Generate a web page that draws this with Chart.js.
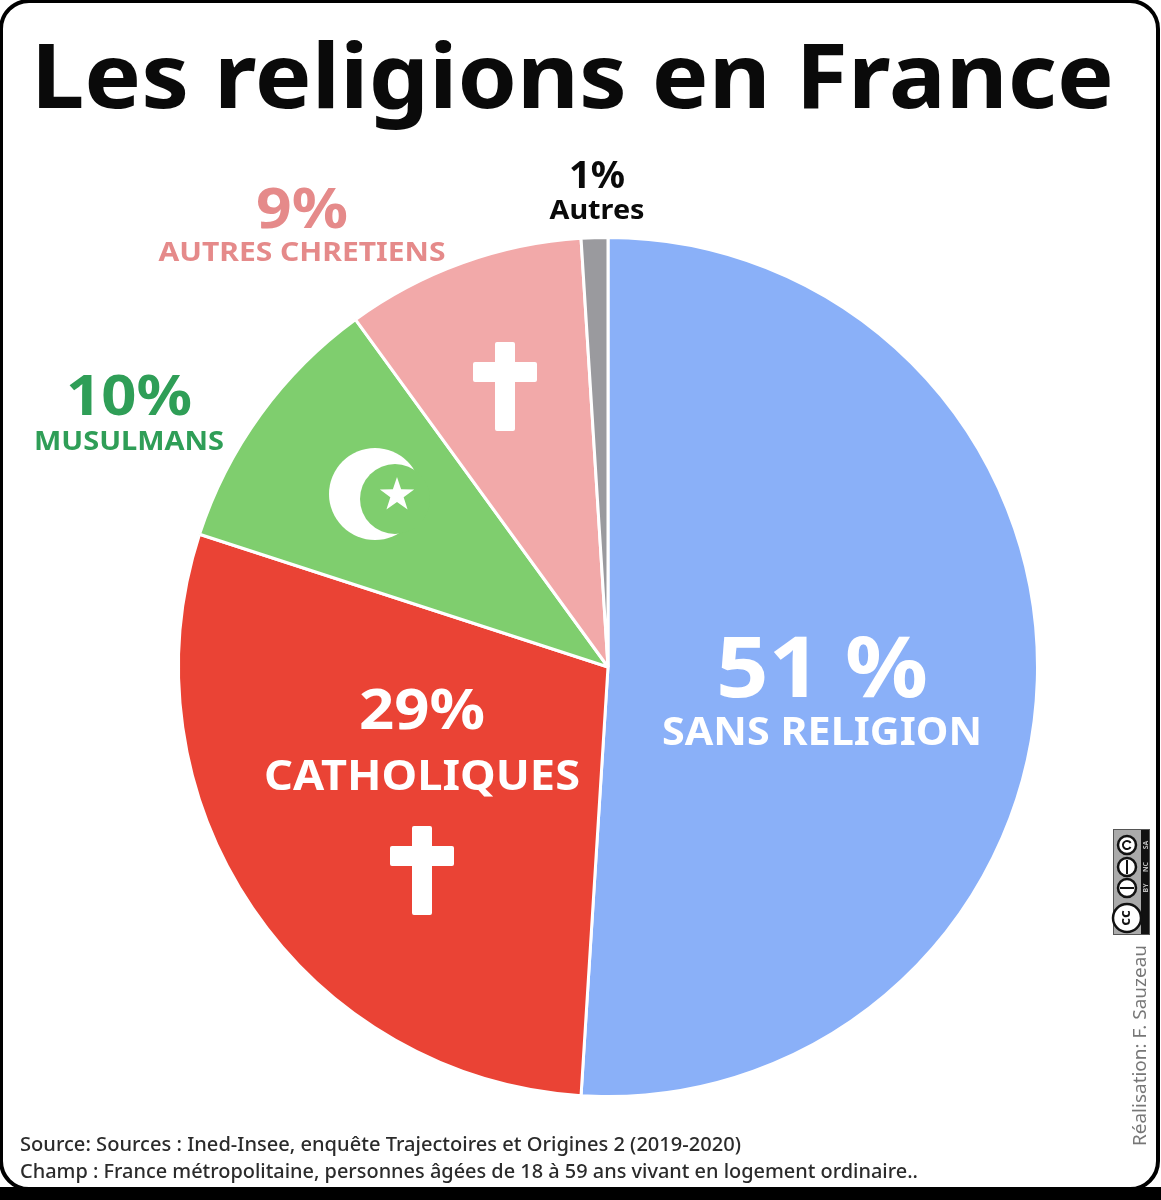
<!DOCTYPE html>
<html lang="fr">
<head>
<meta charset="utf-8">
<title>Les religions en France</title>
<script src="https://cdn.jsdelivr.net/npm/chart.js@4"></script>
<style>
  html, body { margin: 0; background: #fff; }
  canvas { display: block; }
</style>
</head>
<body>
<canvas id="chart" width="1161" height="1200"></canvas>
<script>
// Data, clockwise from the top of the pie
var categories = ['SANS RELIGION', 'CATHOLIQUES', 'MUSULMANS', 'AUTRES CHRETIENS', 'Autres'];
var shares = [51, 29, 10, 9, 1];
var shareLabels = ['51 %', '29%', '10%', '9%', '1%'];
var sliceColors = ['#8ab0f8', '#ea4335', '#7fce6e', '#f2a9a9', '#9a9a9e'];

var chartTitle = 'Les religions en France';
var sourceLines = [
  'Source: Sources : Ined-Insee, enquête Trajectoires et Origines 2 (2019-2020)',
  'Champ : France métropolitaine, personnes âgées de 18 à 59 ans vivant en logement ordinaire..'
];
var credit = 'Réalisation: F. Sauzeau';

var FONT = '"Noto Sans", sans-serif';

// Label placement: [share x, share baseline, share size, share width, name baseline, name size, name width, colour]
var labelPlaces = [
  [822, 697, 84, 212, 745, 40, 320, '#ffffff'],
  [422, 729, 56, 126, 790, 41, 316, '#ffffff'],
  [129, 415, 56, 126, 450, 27, 190, '#2f9e57'],
  [302, 228, 56, 92, 261, 27, 287, '#e58a8a'],
  [597, 188, 38, 56, 219, 26, 95, '#0a0a0a']
];

// draw text squeezed to a given width, the original face is narrower than ours
function fitText(ctx, text, x, y, font, width, align) {
  ctx.save();
  ctx.font = font;
  ctx.textBaseline = 'alphabetic';
  ctx.textAlign = 'left';
  var natural = ctx.measureText(text).width;
  var left = align === 'center' ? x - width / 2 : x;
  ctx.translate(left, y);
  ctx.scale(width / natural, 1);
  ctx.fillText(text, 0, 0);
  ctx.restore();
}

function drawCross(ctx, cx, top) {
  ctx.fillStyle = '#ffffff';
  ctx.beginPath();
  ctx.roundRect(cx - 10, top, 20, 89, 2);
  ctx.roundRect(cx - 32, top + 20, 64, 20, 2);
  ctx.fill();
}

function drawCrescent(ctx) {
  ctx.fillStyle = '#ffffff';
  ctx.beginPath();
  ctx.arc(375, 494, 46, 0, Math.PI * 2);
  ctx.fill();
  ctx.fillStyle = sliceColors[2];
  ctx.beginPath();
  ctx.arc(395, 499, 35, 0, Math.PI * 2);
  ctx.fill();
  ctx.fillStyle = '#ffffff';
  ctx.beginPath();
  for (var i = 0; i < 10; i++) {
    var r = i % 2 ? 7 : 18;
    var a = -Math.PI / 2 + i * Math.PI / 5;
    ctx.lineTo(397 + r * Math.cos(a), 495 + r * Math.sin(a));
  }
  ctx.closePath();
  ctx.fill();
}

function drawBadge(ctx) {
  ctx.fillStyle = '#aaaaaa';
  ctx.fillRect(1113, 829, 37, 106);
  ctx.fillStyle = '#111111';
  ctx.fillRect(1141, 829, 9, 106);
  ctx.strokeStyle = '#555555';
  ctx.lineWidth = 1;
  ctx.strokeRect(1113.5, 829.5, 36, 105);
  var rings = [[845, 9], [867, 9], [888, 9], [918, 14]];
  rings.forEach(function(ring) {
    ctx.fillStyle = '#ffffff';
    ctx.strokeStyle = '#111111';
    ctx.lineWidth = 2.5;
    ctx.beginPath();
    ctx.arc(1127, ring[0], ring[1], 0, Math.PI * 2);
    ctx.fill();
    ctx.stroke();
  });
  ctx.save();
  ctx.translate(1127, 918);
  ctx.rotate(-Math.PI / 2);
  ctx.fillStyle = '#111111';
  ctx.textAlign = 'center';
  ctx.textBaseline = 'middle';
  ctx.font = '700 15px ' + FONT;
  ctx.fillText('cc', 0, -1);
  ctx.restore();
  [['SA', 845], ['NC', 867], ['BY', 888]].forEach(function(tag) {
    ctx.save();
    ctx.translate(1146, tag[1]);
    ctx.rotate(-Math.PI / 2);
    ctx.fillStyle = '#bbbbbb';
    ctx.textAlign = 'center';
    ctx.textBaseline = 'middle';
    ctx.font = '700 7px ' + FONT;
    ctx.fillText(tag[0], 0, 0);
    ctx.restore();
  });
  // little marks inside the licence rings
  ctx.fillStyle = '#111111';
  ctx.fillRect(1120, 887, 14, 2);
  ctx.fillRect(1126, 860, 2, 14);
  ctx.lineWidth = 2;
  ctx.beginPath();
  ctx.arc(1127, 845, 4, 0.5, Math.PI * 2 - 0.5);
  ctx.stroke();
}

var framePlugin = {
  id: 'frame',
  beforeDraw: function(chart) {
    var ctx = chart.ctx;
    ctx.save();
    ctx.fillStyle = '#ffffff';
    ctx.fillRect(0, 0, 1161, 1200);
    ctx.fillStyle = '#000000';
    ctx.fillRect(0, 1187, 1161, 13);
    ctx.strokeStyle = '#000000';
    ctx.lineWidth = 4;
    ctx.beginPath();
    ctx.roundRect(1, 1, 1157, 1188, 28);
    ctx.stroke();
    ctx.restore();
  }
};

var textPlugin = {
  id: 'texts',
  afterDraw: function(chart) {
    var ctx = chart.ctx;
    ctx.save();

    ctx.fillStyle = '#0a0a0a';
    fitText(ctx, chartTitle, 31, 108, '700 90px ' + FONT, 1083, 'left');

    shareLabels.forEach(function(label, i) {
      var p = labelPlaces[i];
      ctx.fillStyle = p[7];
      fitText(ctx, label, p[0], p[1], '700 ' + p[2] + 'px ' + FONT, p[3], 'center');
      fitText(ctx, categories[i], p[0], p[4], '700 ' + p[5] + 'px ' + FONT, p[6], 'center');
    });

    drawCross(ctx, 505, 342);
    drawCross(ctx, 422, 826);
    drawCrescent(ctx);

    ctx.fillStyle = '#2b2b2b';
    fitText(ctx, sourceLines[0], 20, 1151, '500 20px ' + FONT, 721, 'left');
    fitText(ctx, sourceLines[1], 20, 1178, '500 20px ' + FONT, 898, 'left');

    ctx.save();
    ctx.translate(1146, 1146);
    ctx.rotate(-Math.PI / 2);
    ctx.fillStyle = '#777777';
    fitText(ctx, credit, 0, 0, '400 18px ' + FONT, 201, 'left');
    ctx.restore();

    drawBadge(ctx);
    ctx.restore();
  }
};

new Chart(document.getElementById('chart'), {
  type: 'pie',
  data: {
    labels: categories,
    datasets: [{
      data: shares,
      backgroundColor: sliceColors,
      borderColor: '#ffffff',
      borderWidth: 3,
      hoverOffset: 0
    }]
  },
  options: {
    responsive: false,
    devicePixelRatio: 1,
    animation: false,
    events: [],
    layout: { padding: { left: 177, right: 122, top: 236, bottom: 102 } },
    plugins: {
      legend: { display: false },
      tooltip: { enabled: false },
      title: { display: false }
    }
  },
  plugins: [framePlugin, textPlugin]
});
</script>
</body>
</html>
